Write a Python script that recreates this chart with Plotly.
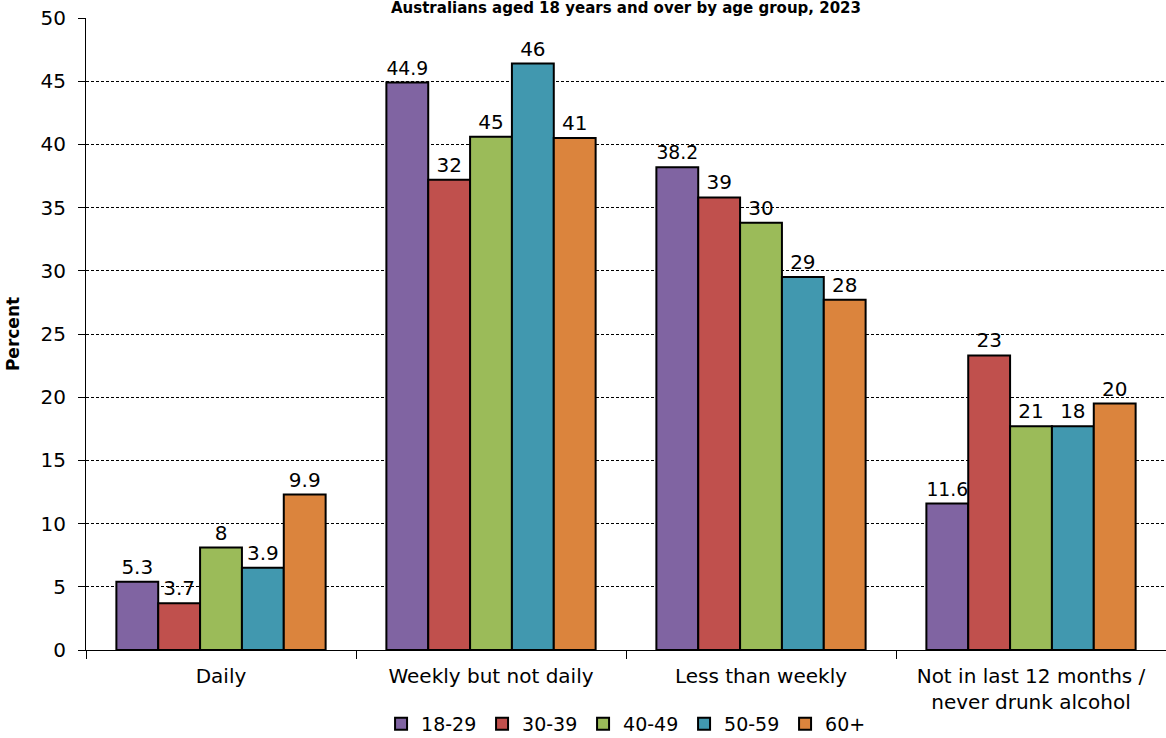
import plotly.graph_objects as go

categories = ["Daily", "Weekly but not daily", "Less than weekly",
              "Not in last 12 months /<br>never drunk alcohol"]
age_groups = ["18-29", "30-39", "40-49", "50-59", "60+"]

# bar heights (per age group, across categories)
v_18_29 = [5.4, 44.9, 38.2, 11.6]
v_30_39 = [3.7, 37.2, 35.8, 23.3]
v_40_49 = [8.1, 40.6, 33.8, 17.7]
v_50_59 = [6.5, 46.4, 29.5, 17.7]
v_60plus = [12.3, 40.5, 27.7, 19.5]

# data labels as printed in the chart
l_18_29 = ["5.3", "44.9", "38.2", "11.6"]
l_30_39 = ["3.7", "32", "39", "23"]
l_40_49 = ["8", "45", "30", "21"]
l_50_59 = ["3.9", "46", "29", "18"]
l_60plus = ["9.9", "41", "28", "20"]

y_ticks = [0, 5, 10, 15, 20, 25, 30, 35, 40, 45, 50]

values = [v_18_29, v_30_39, v_40_49, v_50_59, v_60plus]
labels = [l_18_29, l_30_39, l_40_49, l_50_59, l_60plus]
colors = ["#8064A2", "#C0504D", "#9BBB59", "#4198AF", "#DB843D"]

FONT = "DejaVu Sans"
FS = 20

fig = go.Figure()
for name, vals, labs, col in zip(age_groups, values, labels, colors):
    fig.add_trace(go.Bar(
        name=name, x=categories, y=vals, text=labs,
        textposition="outside", cliponaxis=False,
        textfont=dict(family=FONT, size=FS, color="black"),
        marker=dict(color=col, line=dict(color="black", width=2)),
        hoverinfo="skip",
    ))

fig.update_layout(
    width=1166, height=738,
    barmode="group", bargap=0.225, bargroupgap=0,
    plot_bgcolor="white", paper_bgcolor="white",
    margin=dict(l=86, r=0, t=18, b=88, autoexpand=False),
    font=dict(family=FONT, size=FS, color="black"),
    title=dict(text="<b>Australians aged 18 years and over by age group, 2023</b>",
               x=(626 / 1166), xanchor="center", y=1 - 2 / 738, yanchor="top",
               pad=dict(t=0, b=0),
               font=dict(family=FONT, size=15, color="black")),
    legend=dict(orientation="h", x=0.507, xanchor="center", y=-0.147, yanchor="bottom",
                font=dict(family=FONT, size=19), entrywidth=56, traceorder="normal",
                itemclick=False),
)

fig.update_xaxes(
    showline=True, linecolor="black", linewidth=1,
    ticks="outside", tickson="boundaries", ticklen=8, tickcolor="black",
    tickfont=dict(family=FONT, size=FS), ticklabelstandoff=8,
    showgrid=False, automargin=False,
)
fig.update_yaxes(
    range=[0, 50], tickvals=y_ticks,
    showline=True, linecolor="black", linewidth=1,
    ticks="outside", ticklen=7, tickcolor="black",
    tickfont=dict(family=FONT, size=FS), ticklabelstandoff=8,
    showgrid=True, gridcolor="black", gridwidth=1, griddash="3px,2px",
    zeroline=False, automargin=False,
    title=dict(text="<b>Percent</b>", font=dict(family=FONT, size=17), standoff=16),
)

fig.write_html("out.html", config={"displayModeBar": False},
               post_script="document.body.style.margin='0';")
